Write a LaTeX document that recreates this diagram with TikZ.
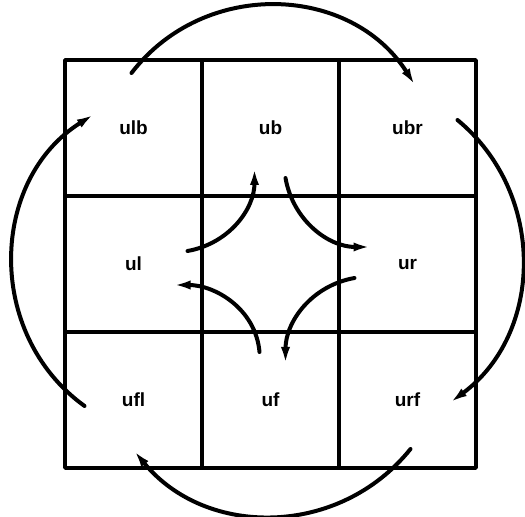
\documentclass[tikz,border=0pt]{standalone}
\usepackage{fontspec}
\setsansfont{Liberation Sans}
\usetikzlibrary{arrows.meta,calc}
\tikzset{
    every picture/.style={line cap=round,line join=round},
    cell/.style={draw=black,line width=1.8pt,minimum width=68.5pt,minimum height=68pt,
      inner sep=0pt,outer sep=0pt,font=\sffamily\bfseries\fontsize{9.5}{11}\selectfont},
    turnarrow/.style={->,draw=black,line width=2pt}
}

\begin{document}
\begin{tikzpicture}[x=0.5pt,y=-0.5pt,>={Latex[length=9pt,width=4.5pt]}]
  \useasboundingbox (0,0) rectangle (525,517);
  \foreach \c/\r/\name/\txt in {0/0/ulb/ulb,1/0/ub/ub,2/0/ubr/ubr,0/1/ul/ul,1/1/mid/{},
      2/1/ur/ur,0/2/ufl/ufl,1/2/uf/uf,2/2/urf/urf} {
    \node[cell] (\name) at (133.5+137*\c,128+136*\r) {\txt};
  }
  % outer ring
  \draw[turnarrow] ($(ulb)+(-2,-55)$) to[bend left=55,looseness=1.08] ($(ubr)+(8,-42)$);
  \draw[turnarrow] ($(ubr)+(50,-8)$) to[bend left=52,looseness=1.05] ($(urf)+(42,3)$);
  \draw[turnarrow] ($(urf)+(3,49)$) to[bend left=51,looseness=1.05] ($(ufl)+(0,50)$);
  \draw[turnarrow] ($(ufl)+(-49,6)$) to[bend left=56,looseness=1.08] ($(ulb)+(-39,-14)$);
  % inner ring
  \draw[turnarrow] ($(ul)+(54,-13)$) to[out=10,in=-90] ($(ub)+(-16,39)$);
  \draw[turnarrow] ($(ub)+(15,50)$) to[out=-80,in=180] ($(ur)+(-36,-17)$);
  \draw[turnarrow] ($(ur)+(-53,14)$) to[out=190,in=90] ($(uf)+(15,-35)$);
  \draw[turnarrow] ($(uf)+(-11,-48)$) to[out=95,in=0] ($(ul)+(39,21)$);
\end{tikzpicture}
\end{document}
